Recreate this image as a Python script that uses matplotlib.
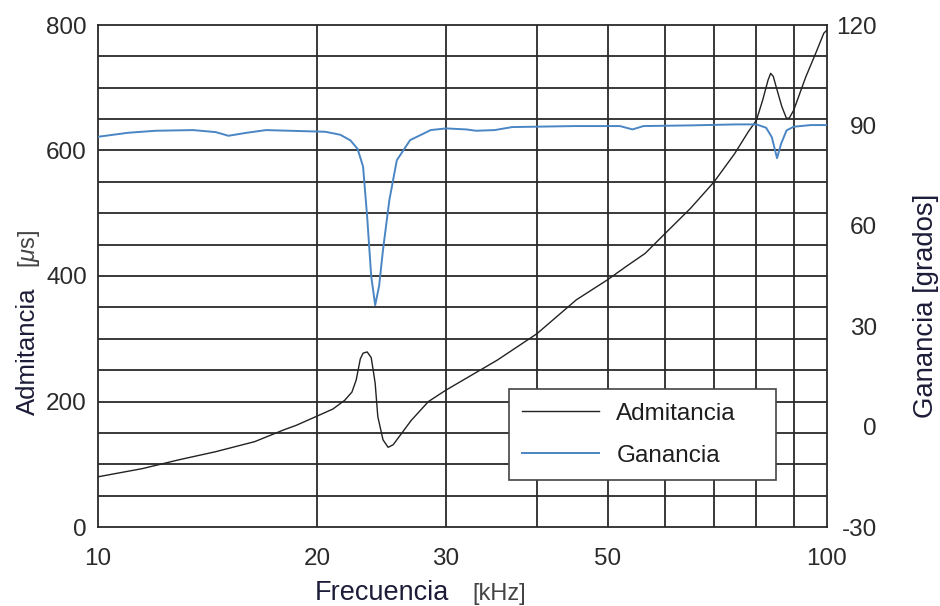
import numpy as np
import matplotlib
matplotlib.use("Agg")
import matplotlib.pyplot as plt
from matplotlib.ticker import FixedLocator, NullFormatter, FixedFormatter

plt.rcParams['font.family'] = ['Liberation Sans', 'DejaVu Sans']
plt.rcParams['mathtext.fontset'] = 'custom'
plt.rcParams['mathtext.rm'] = 'Liberation Sans'
plt.rcParams['mathtext.it'] = 'Liberation Sans:italic'
plt.rcParams['axes.unicode_minus'] = False

# ---- data ----
freq_adm = [10, 11.5, 12.9, 14.5, 16.4, 18.0, 18.7, 20, 21.0, 21.8, 22.3, 22.6, 22.9,
            23.1, 23.4, 23.7, 23.85, 24.0, 24.2, 24.6, 25.0, 25.4, 25.7, 26.9, 28.4,
            30, 35.3, 40, 45.3, 50, 53, 56.3, 60, 65, 70, 74.7, 78, 80, 81.6, 83.0,
            83.7, 84.4, 85.0, 86.7, 88.0, 88.8, 90, 93.5, 96.5, 99, 100]
admitancia = [80, 93, 107, 120, 136, 155, 162, 177, 188, 202, 215, 234, 268,
              277, 279, 270, 250, 229, 176, 139, 127, 131, 139, 170, 200,
              218, 266, 308, 362, 394, 415, 436, 468, 508, 550, 595, 630, 648, 680, 712,
              723, 718, 705, 670, 651, 652, 664, 717, 755, 787, 792]

freq_gan = [10.0, 11.0, 12.0, 13.5, 14.5, 15.1, 16.0, 17.0, 19.0, 20.5, 21.5, 22.2,
            22.7, 23.1, 23.4, 23.7, 24.0, 24.3, 24.6, 25.1, 25.7, 26.8, 28.6, 30.0,
            32.0, 33.0, 35.0, 37.0, 45.0, 52.0, 54.1, 56.0, 65.0, 75.0, 80.0, 82.5,
            84.0, 85.4, 86.5, 88.0, 90.0, 95.0, 100]
ganancia = [86.6, 87.8, 88.4, 88.6, 88.0, 86.9, 87.8, 88.6, 88.3, 88.1, 87.2, 85.5,
            83.0, 77.7, 62.7, 45.0, 36.3, 42.0, 52.8, 67.7, 79.6, 85.6, 88.6, 89.1,
            88.8, 88.4, 88.6, 89.5, 89.8, 89.8, 88.8, 89.8, 90.0, 90.3, 90.3, 89.3,
            86.5, 80.2, 84.5, 88.5, 89.6, 90.1, 90.1]

x_ticks = [10, 20, 30, 50, 100]
x_grid = [20, 30, 40, 50, 60, 70, 80, 90]
y_left_ticks = [0, 200, 400, 600, 800]
y_grid = list(range(50, 800, 50))
y_right_ticks = [-30, 0, 30, 60, 90, 120]

FS = 17.5
grid_c = '#2a2a2a'
blue = '#4a86c4'
dark = '#1c1c38'
W, H = 940, 606

fig = plt.figure(figsize=(W/100, H/100), dpi=100)
ax = fig.add_axes([98/W, 1 - 527/H, (827-98)/W, (527-25)/H])
ax.set_xscale('log')
ax.set_xlim(10, 100)
ax.set_ylim(0, 800)

for g in x_grid:
    ax.axvline(g, color=grid_c, lw=1.3, zorder=1)
for g in y_grid:
    ax.axhline(g, color=grid_c, lw=1.3, zorder=1)

ax.xaxis.set_major_locator(FixedLocator(x_ticks))
ax.xaxis.set_major_formatter(FixedFormatter([str(t) for t in x_ticks]))
ax.xaxis.set_minor_locator(FixedLocator([]))
ax.xaxis.set_minor_formatter(NullFormatter())
ax.yaxis.set_major_locator(FixedLocator(y_left_ticks))
ax.tick_params(axis='both', length=0, labelsize=FS, colors='#2a2a2a')
ax.tick_params(axis='x', pad=15)
ax.tick_params(axis='y', pad=8)

for s in ax.spines.values():
    s.set_color(grid_c)
    s.set_linewidth(1.3)

ax2 = ax.twinx()
ax2.set_ylim(-30, 120)
ax2.yaxis.set_major_locator(FixedLocator(y_right_ticks))
ax2.tick_params(axis='y', length=0, labelsize=FS, colors='#2a2a2a', pad=36)
for lab in ax2.get_yticklabels():
    lab.set_horizontalalignment('right')
for s in ax2.spines.values():
    s.set_visible(False)

ax2.set_zorder(ax.get_zorder() + 1)
ax2.patch.set_visible(False)
la, = ax.plot(freq_adm, admitancia, color='#222222', lw=1.0, zorder=3, label='Admitancia')
lg, = ax2.plot(freq_gan, ganancia, color=blue, lw=1.4, zorder=3, label='Ganancia')

# axis labels (pixel anchored)
def px(x, y):
    return x / W, 1 - y / H

fig.text(*px(315, 600), 'Frecuencia', fontsize=19.5, color=dark, ha='left', va='baseline')
fig.text(*px(472, 600), '[kHz]', fontsize=17, color='#444444', ha='left', va='baseline')
fig.text(*px(35, 415), 'Admitancia', fontsize=18.5, color=dark, rotation=90,
         rotation_mode='anchor', ha='left', va='baseline')
fig.text(*px(35, 268), r'[$\mu$s]', fontsize=17, color='#444444', rotation=90,
         rotation_mode='anchor', ha='left', va='baseline')
fig.text(*px(933, 418), 'Ganancia [grados]', fontsize=19.8, color=dark, rotation=90,
         rotation_mode='anchor', ha='left', va='baseline')

leg = ax2.legend([la, lg], ['Admitancia', 'Ganancia'], loc='lower left',
                 bbox_to_anchor=((509-98)/729, (527-480)/502, (776-509)/729, 0.17),
                 mode='expand', fontsize=FS,
                 frameon=True, fancybox=False, framealpha=1, edgecolor='#444444',
                 handlelength=3.17, handletextpad=0.7, labelspacing=0.82,
                 borderpad=0.55, borderaxespad=0, labelcolor='#1e1e1e')
leg.get_frame().set_linewidth(1.2)
leg.set_zorder(10)

fig.savefig('out.png', dpi=100, facecolor='white')
